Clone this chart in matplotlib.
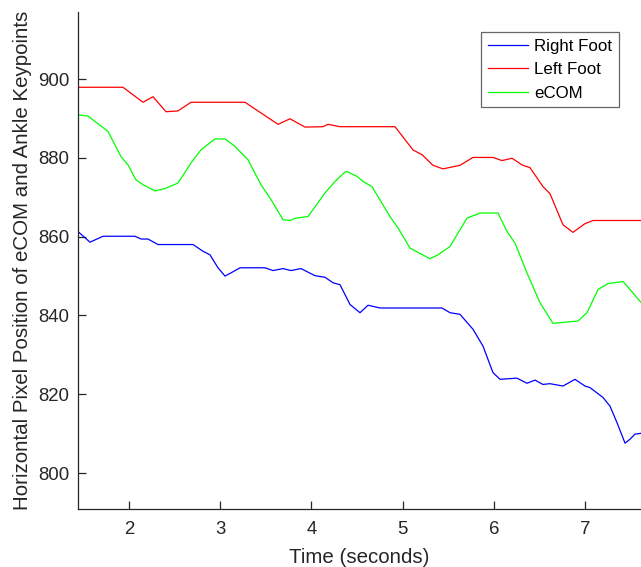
import matplotlib
matplotlib.use("Agg")
import matplotlib.pyplot as plt

# Time (s) and horizontal pixel position
t_left = [1.441, 1.934, 2.154, 2.263, 2.406, 2.537, 2.680, 3.272, 3.414, 3.634,
          3.765, 3.930, 4.127, 4.182, 4.314, 4.917, 5.114, 5.213, 5.333, 5.443,
          5.629, 5.772, 5.991, 6.090, 6.200, 6.309, 6.397, 6.539, 6.616, 6.759,
          6.868, 7.000, 7.088, 7.614]
left_foot = [897.9, 897.9, 894.1, 895.5, 891.7, 891.9, 894.1, 894.1, 891.9, 888.5,
             889.9, 887.8, 887.9, 888.5, 887.9, 887.9, 882.0, 880.8, 878.1, 877.2,
             878.1, 880.1, 880.1, 879.3, 879.9, 878.2, 877.5, 872.7, 870.9, 863.0,
             861.1, 863.3, 864.1, 864.1]

t_com = [1.441, 1.550, 1.770, 1.912, 1.989, 2.077, 2.154, 2.285, 2.395, 2.537,
         2.680, 2.789, 2.943, 3.053, 3.162, 3.305, 3.447, 3.557, 3.689, 3.765,
         3.831, 3.963, 4.149, 4.259, 4.368, 4.390, 4.500, 4.566, 4.664, 4.862,
         4.950, 5.081, 5.300, 5.388, 5.520, 5.706, 5.849, 6.046, 6.145, 6.232,
         6.364, 6.507, 6.649, 6.923, 7.022, 7.143, 7.252, 7.417, 7.493, 7.614]
ecom = [890.9, 890.6, 886.7, 880.3, 878.2, 874.4, 873.2, 871.6, 872.2, 873.6,
        878.7, 882.0, 884.8, 884.8, 882.9, 879.5, 873.2, 869.4, 864.3, 864.1,
        864.7, 865.1, 871.1, 874.0, 876.4, 876.5, 875.3, 874.0, 872.7, 865.1,
        862.2, 857.1, 854.4, 855.4, 857.5, 864.7, 866.0, 866.0, 861.3, 858.4,
        850.8, 843.2, 838.0, 838.6, 840.7, 846.6, 848.1, 848.6, 846.6, 843.3]

t_right = [1.441, 1.572, 1.715, 2.066, 2.132, 2.208, 2.318, 2.702, 2.811, 2.888,
           2.976, 3.053, 3.118, 3.217, 3.491, 3.579, 3.689, 3.776, 3.886, 4.039,
           4.149, 4.237, 4.314, 4.423, 4.533, 4.621, 4.752, 5.432, 5.520, 5.629,
           5.772, 5.882, 5.991, 6.068, 6.254, 6.364, 6.452, 6.539, 6.616, 6.759,
           6.890, 7.000, 7.055, 7.197, 7.274, 7.351, 7.439, 7.493, 7.548, 7.614]
right_foot = [861.3, 858.6, 860.1, 860.1, 859.4, 859.4, 858.0, 858.0, 856.3, 855.4,
              852.1, 850.0, 850.8, 852.1, 852.1, 851.4, 851.9, 851.4, 851.9, 850.1,
              849.7, 848.3, 847.8, 842.8, 840.7, 842.6, 841.9, 841.9, 840.7, 840.3,
              836.5, 832.2, 825.5, 823.8, 824.1, 822.8, 823.6, 822.5, 822.7, 822.1,
              823.8, 822.1, 821.7, 819.2, 817.0, 812.8, 807.6, 808.6, 809.9, 810.1]

x_ticks = [2, 3, 4, 5, 6, 7]
y_ticks = [800, 820, 840, 860, 880, 900]

plt.rcParams["font.family"] = ["Liberation Sans", "DejaVu Sans"]
dark = "#262626"

fig = plt.figure(figsize=(6.41, 5.67), dpi=100)
ax = fig.add_axes([78 / 641, 58 / 567, 563 / 641, 497 / 567])

ax.plot(t_right, right_foot, color="b", lw=0.9, label="Right Foot")
ax.plot(t_left, left_foot, color="r", lw=0.9, label="Left Foot")
ax.plot(t_com, ecom, color=(0, 1, 0), lw=0.9, label="eCOM")

ax.set_xlim(1.441, 7.614)
ax.set_ylim(790.9, 917.0)
ax.set_xticks(x_ticks)
ax.set_yticks(y_ticks)

for side in ["top", "right"]:
    ax.spines[side].set_visible(False)
for side in ["left", "bottom"]:
    ax.spines[side].set_color(dark)
    ax.spines[side].set_linewidth(0.9)

ax.tick_params(direction="in", length=6, width=0.9, colors=dark, labelsize=13.4)
ax.tick_params(axis="x", pad=9)
ax.tick_params(axis="y", pad=6)

ax.set_xlabel("Time (seconds)", fontsize=14.8, color=dark, labelpad=6.5)
ax.set_ylabel("Horizontal Pixel Position of eCOM and Ankle Keypoints",
              fontsize=14.8, color=dark)
ax.yaxis.set_label_coords(-0.082, 0.5)

leg = ax.legend(loc="upper right", bbox_to_anchor=(0.961, 0.960), borderaxespad=0,
                fontsize=12.2, fancybox=False, edgecolor="#666666", framealpha=1,
                handlelength=2.4, handletextpad=0.35, labelspacing=0.5,
                borderpad=0.4)
leg.get_frame().set_linewidth(0.9)

fig.savefig("out.png", dpi=100)
